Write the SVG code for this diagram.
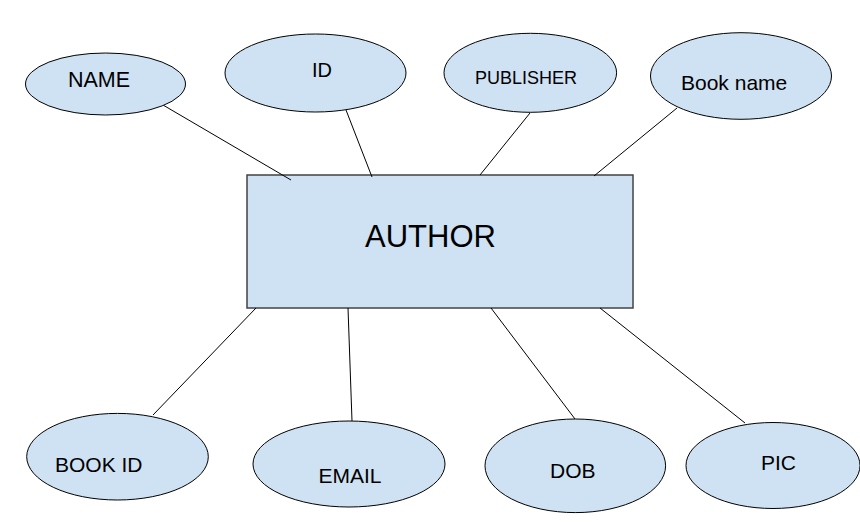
<svg xmlns="http://www.w3.org/2000/svg" width="860" height="527" viewBox="0 0 860 527">
<style>
.attr ellipse{fill:#cfe2f3;stroke:#000;stroke-width:1}
text{font-family:"Liberation Sans",Arial,sans-serif;fill:#000}
.conn line{stroke:#000;stroke-width:1}
</style>
<rect width="860" height="527" fill="#fff"/>
<g id="author">
<rect x="247" y="175" width="386" height="133" fill="#cfe2f3" stroke="#434343" stroke-width="1.5"/>
<text x="365" y="247" font-size="31">AUTHOR</text>
</g>
<g id="connectors" class="conn">
<line x1="163" y1="105" x2="291" y2="180"/>
<line x1="346" y1="110" x2="372" y2="177"/>
<line x1="530" y1="113" x2="480" y2="175"/>
<line x1="677" y1="108" x2="594" y2="176"/>
<line x1="256" y1="308" x2="153" y2="415"/>
<line x1="348" y1="308" x2="352" y2="421"/>
<line x1="491" y1="308" x2="575" y2="419"/>
<line x1="600" y1="308" x2="745" y2="423"/>
</g>
<g id="name" class="attr"><ellipse cx="105.5" cy="84" rx="80" ry="31"/><text x="68" y="87" font-size="21.5">NAME</text></g>
<g id="id" class="attr"><ellipse cx="315.5" cy="73" rx="90.5" ry="39"/><text x="312" y="77" font-size="20">ID</text></g>
<g id="publisher" class="attr"><ellipse cx="530.3" cy="72.8" rx="86.3" ry="39.5"/><text x="475" y="84" font-size="18">PUBLISHER</text></g>
<g id="bookname" class="attr"><ellipse cx="741" cy="76" rx="90.5" ry="43.3"/><text x="681" y="90" font-size="21">Book name</text></g>
<g id="bookid" class="attr"><ellipse cx="117.5" cy="456.7" rx="90.8" ry="43.3"/><text x="55" y="472" font-size="21">BOOK ID</text></g>
<g id="email" class="attr"><ellipse cx="349" cy="464" rx="96" ry="43"/><text x="318.5" y="483" font-size="21">EMAIL</text></g>
<g id="dob" class="attr"><ellipse cx="575.3" cy="465.8" rx="90.3" ry="46.8"/><text x="550" y="478" font-size="21">DOB</text></g>
<g id="pic" class="attr"><ellipse cx="773" cy="465.5" rx="87" ry="43"/><text x="761" y="470" font-size="21">PIC</text></g>
</svg>
